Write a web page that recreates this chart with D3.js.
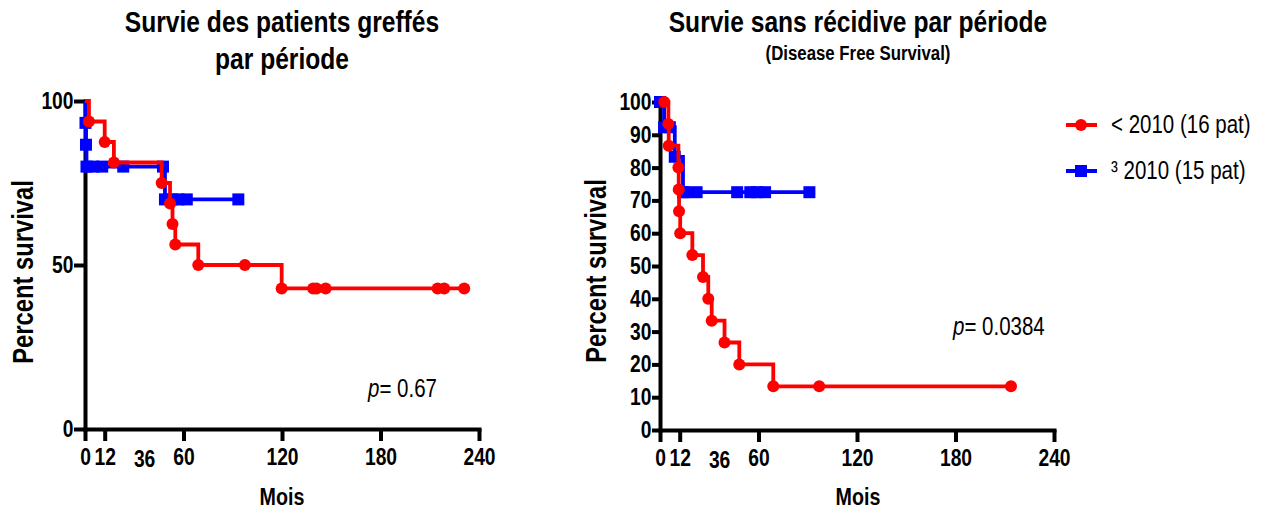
<!DOCTYPE html>
<html>
<head>
<meta charset="utf-8">
<script src="https://cdn.jsdelivr.net/npm/d3@7"></script>
<style>
    body { margin: 0; background: #fff; }
    text { font-family: "Liberation Sans", Arial, sans-serif; }
</style>
</head>
<body>
<svg id="chart" width="1272" height="515"></svg>
<script>
// overall survival, before 2010 (red) - month of event and survival after it
const osRedMonths = [2.4, 12, 17.6, 46.7, 51.8, 53.3, 55, 69, 97.4, 119.8, 139, 141, 146.6, 214.8, 218.8, 231];
const osRedSurv = [93.75, 87.5, 81.25, 75, 68.75, 62.5, 56.25, 50, 50, 42.86, 42.86, 42.86, 42.86, 42.86, 42.86, 42.86];
// overall survival, 2010 and after (blue)
const osBlueMonths = [0.3, 0.6, 0.9, 5, 10.5, 23.3, 47.5, 48.7, 53, 57, 62, 93.4];
const osBlueSurv = [93.33, 86.67, 80, 80, 80, 80, 80, 70, 70, 70, 70, 70];

// disease free survival
const dfsRedMonths = [2.6, 5.1, 5.3, 11.2, 11.4, 11.6, 12.3, 19.7, 26.2, 29.4, 31.5, 39.3, 48.3, 69, 97, 213.8];
const dfsRedSurv = [100, 93.33, 86.67, 80, 73.33, 66.67, 60, 53.33, 46.67, 40, 33.33, 26.67, 20, 13.33, 13.33, 13.33];
const dfsBlueMonths = [0, 2.5, 6, 9, 14, 15.2, 22.3, 47, 55, 59, 64, 91];
const dfsBlueSurv = [100, 92.3, 92.3, 83.3, 72.5, 72.5, 72.5, 72.5, 72.5, 72.5, 72.5, 72.5];

const xTickMonths = [0, 12, 60, 120, 180, 240];
const xLabelMonths = [0, 12, 36, 60, 120, 180, 240];
const osYTicks = [0, 50, 100];
const dfsYTicks = [0, 10, 20, 30, 40, 50, 60, 70, 80, 90, 100];

const legendLabels = ["< 2010 (16 pat)", "\u00b3 2010 (15 pat)"];
const red = "#ff0000";
const blue = "#0000ff";

// no narrow font installed: squeeze Liberation Sans like Arial Narrow
const squeeze = 0.82;

const svg = d3.select("#chart");

function addText(parent, x, y, size, bold, rotate) {
    return parent.append("text")
        .attr("transform", "translate(" + x + "," + y + ")" + (rotate ? " rotate(" + rotate + ")" : "") + " scale(" + squeeze + ",1)")
        .style("font-size", size + "px")
        .style("font-weight", bold ? "bold" : "normal");
}

function drawPanel(p) {
    const x = d3.scaleLinear().domain([0, 240]).range(p.xRange);
    const y = d3.scaleLinear().domain([0, 100]).range(p.yRange);
    const g = svg.append("g");

    // y axis
    const yAxis = g.append("g")
        .attr("transform", "translate(" + p.xRange[0] + ",0)")
        .call(d3.axisLeft(y).tickValues(p.yTicks).tickSize(p.yTickSize).tickSizeOuter(0).tickPadding(0));
    // x axis
    const xAxis = g.append("g")
        .attr("transform", "translate(0," + p.yRange[0] + ")")
        .call(d3.axisBottom(x).tickValues(xLabelMonths).tickSize(12).tickSizeOuter(0).tickPadding(7));

    // the 36 label has no tick mark and sits a bit lower
    xAxis.selectAll(".tick").filter(d => !xTickMonths.includes(d)).select("line").remove();
    xAxis.selectAll(".tick").filter(d => !xTickMonths.includes(d)).select("text").attr("dy", "0.8em");

    [yAxis, xAxis].forEach(a => {
        a.select(".domain").attr("stroke", "#000").attr("stroke-width", 4).attr("stroke-linecap", "square");
        a.selectAll(".tick line").attr("stroke", "#000").attr("stroke-width", 4);
        a.selectAll(".tick text")
            .attr("fill", "#000")
            .attr("transform", "scale(" + squeeze + ",1)")
            .style("font-size", "23.5px")
            .style("font-weight", "bold");
    });
    yAxis.selectAll(".tick text").attr("x", -(p.yTickSize + 0.5) / squeeze);

    // curves, blue under red
    p.curves.forEach(c => {
        const pts = [[0, 100]].concat(c.months.map((m, i) => [m, c.surv[i]]));
        const line = d3.line()
            .x(d => x(d[0]))
            .y(d => y(d[1]))
            .curve(d3.curveStepAfter);
        g.append("path")
            .attr("d", line(pts))
            .attr("fill", "none")
            .attr("stroke", c.color)
            .attr("stroke-width", 3.8);
        const marks = c.months.map((m, i) => [m, c.surv[i]]);
        if (c.shape === "circle") {
            g.selectAll(null).data(marks).enter().append("circle")
                .attr("cx", d => x(d[0]))
                .attr("cy", d => y(d[1]))
                .attr("r", 6)
                .attr("fill", c.color);
        } else {
            g.selectAll(null).data(marks).enter().append("rect")
                .attr("x", d => x(d[0]) - 6)
                .attr("y", d => y(d[1]) - 6)
                .attr("width", 12)
                .attr("height", 12)
                .attr("fill", c.color);
        }
    });

    // titles
    p.title.forEach(t => {
        addText(g, p.titleX, t.y, t.size, true)
            .attr("text-anchor", "middle")
            .text(t.text);
    });

    addText(g, p.yLabelX, p.yLabelY, 29, true, -90)
        .attr("text-anchor", "middle")
        .text("Percent survival");

    addText(g, p.titleX, 505, 24, true)
        .attr("text-anchor", "middle")
        .text("Mois");

    const pv = addText(g, p.pX, p.pY, 25, false);
    pv.append("tspan").style("font-style", "italic").text("p");
    pv.append("tspan").text("= " + p.pValue);
}

drawPanel({
    xRange: [85, 479],
    yRange: [429, 101],
    yTicks: osYTicks,
    yTickSize: 11,
    curves: [
        { months: osBlueMonths, surv: osBlueSurv, color: blue, shape: "square" },
        { months: osRedMonths, surv: osRedSurv, color: red, shape: "circle" }
    ],
    titleX: 282,
    title: [
        { text: "Survie des patients greffés", y: 32, size: 30 },
        { text: "par période", y: 69, size: 30 }
    ],
    yLabelX: 33,
    yLabelY: 272,
    pX: 368,
    pY: 397,
    pValue: "0.67"
});

drawPanel({
    xRange: [660, 1054],
    yRange: [430, 102],
    yTicks: dfsYTicks,
    yTickSize: 8,
    curves: [
        { months: dfsBlueMonths, surv: dfsBlueSurv, color: blue, shape: "square" },
        { months: dfsRedMonths, surv: dfsRedSurv, color: red, shape: "circle" }
    ],
    titleX: 858,
    title: [
        { text: "Survie sans récidive par période", y: 32, size: 30 },
        { text: "(Disease Free Survival)", y: 60, size: 20.5 }
    ],
    yLabelX: 606,
    yLabelY: 271,
    pX: 953,
    pY: 335,
    pValue: "0.0384"
});

// legend
const legend = svg.append("g");
legendLabels.forEach((label, i) => {
    const ly = 125 + i * 46;
    const color = i === 0 ? red : blue;
    legend.append("line")
        .attr("x1", 1066).attr("x2", 1097)
        .attr("y1", ly).attr("y2", ly)
        .attr("stroke", color).attr("stroke-width", 4);
    if (i === 0) {
        legend.append("circle").attr("cx", 1081).attr("cy", ly).attr("r", 6).attr("fill", color);
    } else {
        legend.append("rect").attr("x", 1075).attr("y", ly - 6).attr("width", 12).attr("height", 12).attr("fill", color);
    }
    addText(legend, 1111, ly + 8, 25, false).text(label);
});
</script>
</body>
</html>
